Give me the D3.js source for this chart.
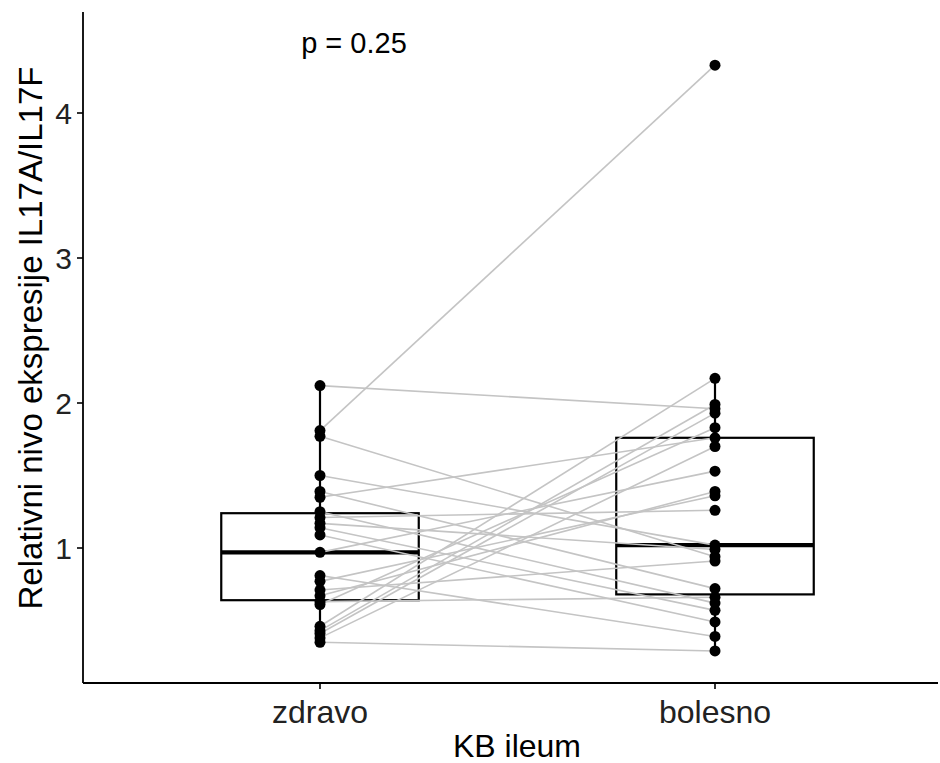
<!DOCTYPE html>
<html><head><meta charset="utf-8">
<script src="https://cdn.jsdelivr.net/npm/d3@7"></script>
<style>body{margin:0;background:#fff}svg{display:block}text{font-family:"Liberation Sans",Arial,sans-serif}</style>
</head><body>
<svg id="c" width="940" height="763"></svg>
<script>
const categories = ["zdravo", "bolesno"];
// paired values (same index = same patient)
const zdravo  = [2.12, 1.81, 1.77, 1.50, 1.39, 1.35, 1.25, 1.21, 1.17, 1.14, 1.09, 0.97, 0.81, 0.77, 0.71, 0.67, 0.63, 0.61, 0.46, 0.43, 0.41, 0.38, 0.35];
const bolesno = [1.96, 4.33, 0.94, 1.02, 0.72, 1.76, 0.62, 1.26, 0.99, 0.57, 0.49, 1.53, 0.39, 1.36, 0.91, 1.39, 0.66, 1.83, 2.17, 1.99, 1.93, 1.70, 0.29];
// box stats: [lowerWhisker, q1, median, q3, upperWhisker]
const boxStats = [[0.35, 0.64, 0.97, 1.24, 2.13], [0.29, 0.68, 1.02, 1.76, 2.17]];
const yTicks = [1, 2, 3, 4];
const pLabel = "p = 0.25";

const svg = d3.select("#c");
const x = d3.scaleLinear().domain([0.4, 2.6]).range([83, 952]);
const y = d3.scaleLinear().domain([0, 4]).range([693, 113]);
const xc = i => x(i + 1);
const boxHalf = x(1.25) - x(1);

// axes
svg.append("line").attr("x1", 83).attr("x2", 83).attr("y1", 12).attr("y2", 683).attr("stroke", "#000").attr("stroke-width", 1.8);
svg.append("line").attr("x1", 83).attr("x2", 938).attr("y1", 683).attr("y2", 683).attr("stroke", "#000").attr("stroke-width", 1.8);
yTicks.forEach(t => {
  svg.append("line").attr("x1", 77).attr("x2", 83).attr("y1", y(t)).attr("y2", y(t)).attr("stroke", "#000").attr("stroke-width", 1.6);
  svg.append("text").attr("x", 72).attr("y", y(t)).attr("dy", "0.36em").attr("text-anchor", "end")
    .attr("font-size", 30).attr("fill", "#222").text(t);
});
categories.forEach((c, i) => {
  svg.append("line").attr("x1", xc(i)).attr("x2", xc(i)).attr("y1", 683).attr("y2", 689).attr("stroke", "#000").attr("stroke-width", 1.6);
  svg.append("text").attr("x", xc(i)).attr("y", 711).attr("dy", "0.36em").attr("text-anchor", "middle")
    .attr("font-size", 32).attr("fill", "#222").text(c);
});
svg.append("text").attr("x", 517).attr("y", 745).attr("dy", "0.36em").attr("text-anchor", "middle").attr("font-size", 32).attr("fill", "#000").text("KB ileum");
svg.append("text").attr("transform", "translate(30,338) rotate(-90)").attr("dy", "0.36em").attr("text-anchor", "middle").attr("font-size", 33).attr("fill", "#000").text("Relativni nivo ekspresije IL17A/IL17F");

// boxes
boxStats.forEach((s, i) => {
  const g = svg.append("g");
  g.append("line").attr("x1", xc(i)).attr("x2", xc(i)).attr("y1", y(s[3])).attr("y2", y(s[4])).attr("stroke", "#000").attr("stroke-width", 2.2);
  g.append("line").attr("x1", xc(i)).attr("x2", xc(i)).attr("y1", y(s[0])).attr("y2", y(s[1])).attr("stroke", "#000").attr("stroke-width", 2.2);
  g.append("rect").attr("x", xc(i) - boxHalf).attr("width", 2 * boxHalf).attr("y", y(s[3])).attr("height", y(s[1]) - y(s[3]))
    .attr("fill", "#fff").attr("stroke", "#000").attr("stroke-width", 2.2);
  g.append("line").attr("x1", xc(i) - boxHalf).attr("x2", xc(i) + boxHalf).attr("y1", y(s[2])).attr("y2", y(s[2])).attr("stroke", "#000").attr("stroke-width", 4.2);
});

// paired lines
zdravo.forEach((v, k) => {
  svg.append("line").attr("x1", xc(0)).attr("y1", y(v)).attr("x2", xc(1)).attr("y2", y(bolesno[k]))
    .attr("stroke", "#c4c4c4").attr("stroke-width", 1.6);
});
// points
[zdravo, bolesno].forEach((arr, i) => {
  svg.selectAll(null).data(arr).enter().append("circle").attr("cx", xc(i)).attr("cy", d => y(d)).attr("r", 5.5).attr("fill", "#000");
});

svg.append("text").attr("x", 354).attr("y", 43).attr("dy", "0.36em").attr("text-anchor", "middle").attr("font-size", 29).attr("fill", "#000").text(pLabel);
</script>
</body></html>
